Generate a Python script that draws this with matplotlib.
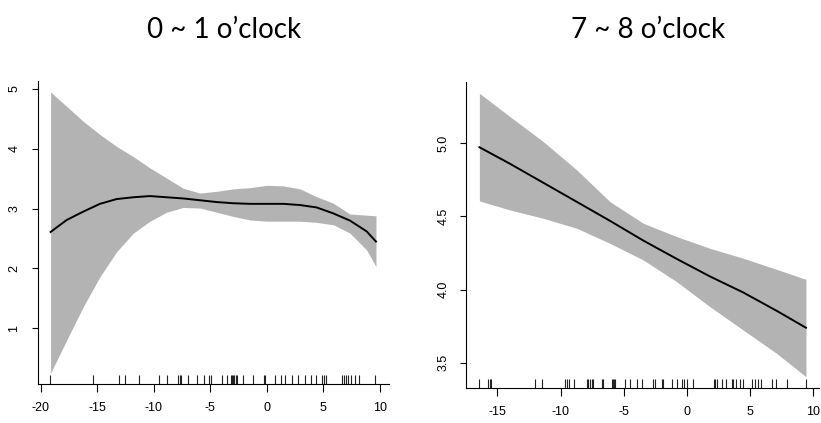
import matplotlib
matplotlib.use("Agg")
import matplotlib.pyplot as plt
import numpy as np

# ---- left panel: 0 ~ 1 o'clock ----
left_x = [-19.12, -17.70, -16.23, -14.76, -13.28, -11.81, -10.33, -8.86, -7.39, -5.91, -4.44,
          -2.97, -1.49, -0.02, 1.46, 2.93, 4.40, 5.88, 7.35, 8.82, 9.65]
left_fit = [2.61, 2.81, 2.95, 3.08, 3.16, 3.19, 3.21, 3.19, 3.17, 3.14, 3.11,
            3.09, 3.08, 3.08, 3.08, 3.06, 3.02, 2.92, 2.80, 2.62, 2.45]
left_upper = [4.95, 4.71, 4.46, 4.24, 4.04, 3.87, 3.68, 3.51, 3.34, 3.26, 3.29,
              3.33, 3.35, 3.39, 3.38, 3.33, 3.20, 3.09, 2.91, 2.89, 2.88]
left_lower = [0.25, 0.80, 1.36, 1.86, 2.28, 2.59, 2.79, 2.94, 3.02, 3.01, 2.94,
              2.87, 2.81, 2.79, 2.79, 2.79, 2.77, 2.73, 2.59, 2.31, 2.03]
left_rug = [-19.15, -15.33, -13.10, -12.57, -11.34, -9.58, -8.79, -7.85, -7.70, -7.56, -6.94,
            -6.20, -5.56, -5.12, -4.97, -3.94, -3.50, -3.21, -3.06, -2.98, -2.89, -2.77,
            -2.62, -2.10, -1.24, -0.28, -0.13, 0.75, 1.25, 1.63, 2.22, 2.75, 3.33, 3.92,
            4.33, 4.86, 5.01, 5.24, 6.62, 6.83, 7.00, 7.21, 7.44, 7.80, 8.18, 9.56]
left_xticks = [-20, -15, -10, -5, 0, 5, 10]
left_yticks = [1, 2, 3, 4, 5]

# ---- right panel: 7 ~ 8 o'clock ----
right_x = [-16.42, -14.0, -11.36, -8.72, -6.09, -3.45, -0.81, 1.82, 4.46, 7.10, 9.42]
right_fit = [4.973, 4.86, 4.73, 4.60, 4.47, 4.335, 4.21, 4.09, 3.98, 3.855, 3.739]
right_upper = [5.342, 5.182, 5.011, 4.818, 4.601, 4.453, 4.362, 4.282, 4.214, 4.138, 4.070]
right_lower = [4.606, 4.544, 4.487, 4.419, 4.316, 4.202, 4.054, 3.883, 3.723, 3.564, 3.404]
right_rug = [-16.42, -15.71, -15.58, -15.50, -11.99, -11.44, -9.65, -9.51, -9.30, -8.93,
             -7.93, -7.80, -7.67, -7.54, -7.41, -6.75, -6.67, -5.95, -5.88, -5.77, -5.66,
             -4.90, -4.50, -3.98, -3.58, -2.66, -2.53, -2.00, -1.87, -1.21, -0.81, -0.42,
             -0.23, -0.02, 0.45, 2.14, 2.22, 2.41, 2.75, 3.09, 3.54, 3.67, 3.88, 4.20,
             4.46, 5.12, 5.38, 5.65, 5.83, 6.70, 7.05, 7.89, 9.42]
right_xticks = [-15, -10, -5, 0, 5, 10]
right_yticks = [3.5, 4.0, 4.5, 5.0]

titles = ["0 ~ 1 o\u2019clock", "7 ~ 8 o\u2019clock"]

fig = plt.figure(figsize=(8.21, 4.23), dpi=100)
ax1 = fig.add_axes([0.0458, 0.0915, 0.428, 0.7175])
ax2 = fig.add_axes([0.568, 0.0825, 0.4296, 0.7239])


def r_range(vals):
    # R style 4% padding
    lo, hi = min(vals), max(vals)
    pad = (hi - lo) * 0.04
    return lo - pad, hi + pad


def draw_panel(ax, x, fit, lo, hi, rug, xticks, yticks, yfmt):
    ax.fill_between(x, lo, hi, color="#b3b3b3", linewidth=0)
    ax.plot(x, fit, color="black", linewidth=1.4)
    ax.vlines(rug, 0, 0.03, transform=ax.get_xaxis_transform(),
              color="#222222", linewidth=0.8)
    ax.set_xlim(*r_range(x))
    ax.set_ylim(*r_range(list(lo) + list(hi)))
    ax.set_xticks(xticks)
    ax.set_yticks(yticks)
    ax.set_xticklabels([str(t) for t in xticks], fontfamily="Liberation Sans", fontsize=9)
    ax.set_yticklabels([yfmt.format(t) for t in yticks], fontfamily="Liberation Sans",
                       fontsize=9, rotation=90, va="center")
    ax.tick_params(axis="x", direction="out", length=6, width=0.8, pad=7)
    ax.tick_params(axis="y", direction="out", length=4.3, width=0.8, pad=8)
    for s in ["top", "right"]:
        ax.spines[s].set_visible(False)
    for s in ["left", "bottom"]:
        ax.spines[s].set_linewidth(0.8)


draw_panel(ax1, left_x, left_fit, left_lower, left_upper, left_rug,
           left_xticks, left_yticks, "{:d}")
draw_panel(ax2, right_x, right_fit, right_lower, right_upper, right_rug,
           right_xticks, right_yticks, "{:.1f}")

fig.text(0.273, 0.93, titles[0], ha="center", va="center", fontfamily="Lato", fontsize=20)
fig.text(0.789, 0.93, titles[1], ha="center", va="center", fontfamily="Lato", fontsize=20)

plt.savefig("out.png", dpi=100)
